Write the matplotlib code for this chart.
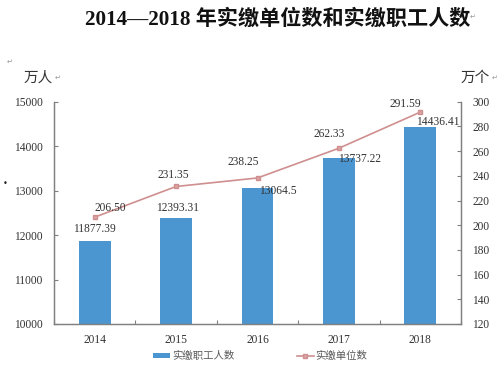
import matplotlib
matplotlib.use('Agg')
import matplotlib.pyplot as plt
from matplotlib.lines import Line2D
from matplotlib.patches import Patch

# data
years = ['2014', '2015', '2016', '2017', '2018']
workers = [11877.39, 12393.31, 13064.5, 13737.22, 14436.41]      # 万人, bars
worker_labels = ['11877.39', '12393.31', '13064.5', '13737.22', '14436.41']
units = [206.50, 231.35, 238.25, 262.33, 291.59]                 # 万个, line
unit_labels = ['206.50', '231.35', '238.25', '262.33', '291.59']

left_ticks = [10000, 11000, 12000, 13000, 14000, 15000]
right_ticks = [120, 140, 160, 180, 200, 220, 240, 260, 280, 300]

# label offsets in pixels (dx, dy up) relative to bar top / point
bar_off = [(0, 11.7), (1, 10), (20, -3), (21, -1), (17, 5)]
line_off = [(16, 9), (-3, 11), (-14, 16), (-10, 14), (-15, 8)]

serif = ['Liberation Serif', 'Noto Sans CJK SC', 'DejaVu Sans']
cjk = ['Noto Sans CJK SC', 'DejaVu Sans']
barColor = '#4b96d1'
lineColor = '#cf8f8f'
txt = '#333333'

fig = plt.figure(figsize=(5, 3.76), dpi=100)
ax = fig.add_axes([0.108, 0.1383, 0.814, 0.5912])
ax2 = ax.twinx()

x = list(range(len(years)))
ax.bar(x, workers, width=0.39, color=barColor, zorder=2)
ax2.plot(x, units, color=lineColor, lw=1.2, marker='s', ms=3.5,
         mfc='#d9a3a3', mec=lineColor, zorder=3)

ax.set_xlim(-0.5, 4.5)
ax.set_ylim(10000, 15000)
ax2.set_ylim(120, 300)
ax.set_yticks(left_ticks)
ax2.set_yticks(right_ticks)

# category boundaries as major ticks, labels on minor ticks
ax.set_xticks([i + 0.5 for i in range(-1, 5)])
ax.set_xticklabels([])
ax.set_xticks(x, minor=True)
ax.set_xticklabels(years, minor=True, fontfamily=serif, fontsize=8.3, color=txt)
ax.tick_params(axis='x', which='major', direction='in', length=3, color='#808080')
ax.tick_params(axis='x', which='minor', length=0, pad=7)
ax.tick_params(axis='y', direction='in', length=3, color='#808080', pad=8,
               labelsize=8.3, labelcolor=txt)
ax2.tick_params(axis='y', direction='in', length=3, color='#808080', pad=8,
                labelsize=8.3, labelcolor=txt)
for lab in ax.get_yticklabels() + ax2.get_yticklabels():
    lab.set_fontfamily(serif)

for a in (ax, ax2):
    a.spines['top'].set_visible(False)
    for s in ('left', 'right', 'bottom'):
        a.spines[s].set_color('#808080')
        a.spines[s].set_linewidth(0.9)

# data labels
px = 72.0 / fig.dpi
for i in x:
    dx, dy = bar_off[i]
    ax.annotate(worker_labels[i], (i, workers[i]), xytext=(dx * px, dy * px),
                textcoords='offset points', ha='center', va='center',
                fontsize=8.3, fontfamily=serif, color=txt, zorder=4)
    dx, dy = line_off[i]
    ax2.annotate(unit_labels[i], (i, units[i]), xytext=(dx * px, dy * px),
                 textcoords='offset points', ha='center', va='center',
                 fontsize=8.3, fontfamily=serif, color=txt, zorder=4)

# title and unit labels
fig.text(0.555, 0.947, '2014\u20142018 年实缴单位数和实缴职工人数', ha='center', va='center',
         fontsize=15.2, fontweight='bold', fontfamily=serif, color='#111111')
fig.text(0.946, 0.955, '\u21b5', ha='center', va='center', fontsize=5, color='#999999',
         fontfamily=['DejaVu Sans'])
fig.text(0.076, 0.793, '万人', ha='center', va='center', fontsize=10.5,
         fontfamily=cjk, color=txt)
fig.text(0.950, 0.793, '万个', ha='center', va='center', fontsize=10.5,
         fontfamily=cjk, color=txt)
for xp, yp in [(0.02, 0.835), (0.115, 0.793), (0.990, 0.793)]:
    fig.text(xp, yp, '\u21b5', ha='center', va='center', fontsize=5, color='#999999',
             fontfamily=['DejaVu Sans'])
fig.text(0.01, 0.513, '\u2022', ha='center', va='center', fontsize=6, color='#222222',
         fontfamily=['DejaVu Sans'])

# legend
handles = [Patch(facecolor=barColor, edgecolor='none'),
           Line2D([0], [0], color=lineColor, lw=1.2, marker='s', ms=3,
                  mfc='#d9a3a3', mec=lineColor)]
leg = fig.legend(handles, ['实缴职工人数', '实缴单位数'], loc='center',
                 bbox_to_anchor=(0.521, 0.053), ncol=2, frameon=False,
                 prop={'family': cjk, 'size': 7.5}, handlelength=1.6,
                 handleheight=0.35, handletextpad=0.2, columnspacing=6.0)
for t in leg.get_texts():
    t.set_color('#595959')

fig.savefig('out.png', dpi=100)
